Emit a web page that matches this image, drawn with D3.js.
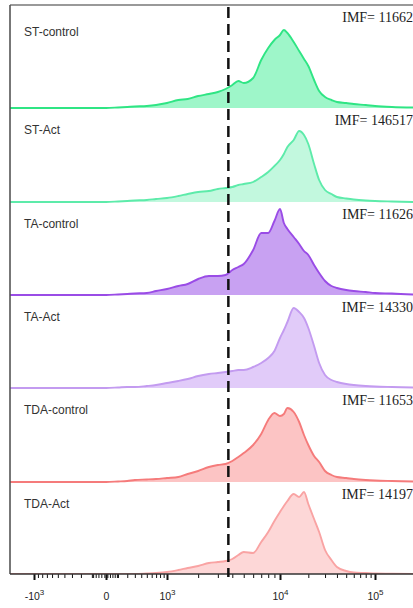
<!DOCTYPE html>
<html>
<head>
<meta charset="utf-8">
<script src="https://cdn.jsdelivr.net/npm/d3@7"></script>
<style>
  body { margin: 0; background: #fff; }
</style>
</head>
<body>
<div id="chart"></div>
<script>
var width = 413, height = 608;

// fluorescence intensity bins (shared by all histograms)
var bins = [-3000, 0, 100, 200, 300, 500, 700, 1000, 1300, 1600, 2000, 2500, 3000, 3500, 4000, 4500, 5000,
            6000, 7000, 8000, 9000, 10000, 11000, 12000, 14000, 16000, 18000, 20000, 23000, 26000,
            30000, 35000, 40000, 50000, 60000, 80000, 100000, 150000, 250000];

var samples = ["ST-control", "ST-Act", "TA-control", "TA-Act", "TDA-control", "TDA-Act"];
var imf = ["11662", "146517", "11626", "14330", "11653", "14197"];

// normalized counts per bin
var stControl  = [0, 0, 0.5, 1, 1.5, 2, 3, 5, 8, 9, 12, 14, 16, 19, 23, 27, 25,
                  30, 48, 60, 68, 73, 78, 75, 66, 57, 49, 42, 28, 17, 11, 8, 6, 5, 4, 3, 2, 1, 0.5];
var stAct      = [0, 0, 0.5, 1, 1.5, 2, 3, 4, 6, 8, 10, 11, 13, 14, 15, 17, 18,
                  20, 25, 30, 36, 42, 48, 55, 62, 71, 67, 58, 38, 22, 12, 8, 5, 3.5, 2.5, 1.5, 1, 0.5, 0];
var taControl  = [0, 0, 0.5, 1, 1.5, 2, 4, 6, 9, 11, 16, 19, 19, 20, 25, 28, 31,
                  45, 62, 62, 74, 86, 72, 66, 58, 51, 44, 40, 30, 22, 14, 9, 7, 5, 4, 3, 2, 1.5, 0.5];
var taAct      = [0, 0, 0.5, 1, 1, 2, 3, 5, 7, 9, 12, 14, 15, 16, 17, 18, 18,
                  21, 25, 30, 37, 50, 58, 66, 80, 76, 70, 60, 42, 25, 13, 8, 6, 4, 3, 2, 1.5, 1, 0.5];
var tdaControl = [0, 0, 0.5, 1, 2, 2.5, 3, 4, 5, 8, 11, 15, 17, 18, 21, 25, 29,
                  37, 48, 62, 69, 66, 68, 74, 70, 60, 47, 37, 26, 20, 11, 7, 5, 4, 3, 2, 1.5, 1, 0.5];
var tdaAct     = [0, 0, 0, 0, 0, 0.5, 1, 2, 4, 6, 8, 11, 12, 13, 15, 19, 22,
                  21, 32, 42, 53, 62, 68, 73, 80, 77, 82, 70, 55, 42, 24, 14, 7, 3, 1.5, 1, 0.5, 0.3, 0];

var series = [stControl, stAct, taControl, taAct, tdaControl, tdaAct];
var lineColors = ["#2fe584", "#5debaa", "#9a4ce6", "#c39bf0", "#f57b7b", "#f9a3a3"];
var fillColors = ["#9ef6c9", "#c2f8de", "#c8a1f2", "#e1cbf9", "#fcc4c4", "#fdd7d7"];

var majorTicks = [-1000, 0, 1000, 10000, 100000];
var majorLabels = [["-10", "3"], ["0", ""], ["10", "3"], ["10", "4"], ["10", "5"]];
var minorTicks = [-900, -800, -700, -600, -500, -400, -300, -200, -100,
                  -90, -70, -50, -30, -10, 10, 30, 50, 70, 90,
                  100, 200, 300, 400, 500, 600, 700, 800, 900,
                  2000, 3000, 4000, 5000, 6000, 7000, 8000, 9000,
                  20000, 30000, 40000, 50000, 60000, 70000, 80000, 90000];
var gateValue = 3700;

var plotLeft = 10, plotRight = 413, plotTop = 5, axisY = 574, panelH = 93;
var baselines = [108, 202, 295, 388, 482, 574];

// biexponential-like display scale
var x = d3.scaleSymlog().constant(300)
          .domain(majorTicks)
          .range([34, 106, 167, 280, 375]);

var svg = d3.select("#chart")
            .append("svg")
            .attr("width", width)
            .attr("height", height)
            .style("font-family", "'Liberation Sans', Arial, sans-serif");

svg.append("defs").append("clipPath").attr("id", "plot")
   .append("rect")
   .attr("x", plotLeft).attr("y", plotTop)
   .attr("width", plotRight - plotLeft).attr("height", axisY - plotTop);

var plot = svg.append("g").attr("clip-path", "url(#plot)");

series.forEach(function(vals, i) {
    var base = baselines[i];
    var y = d3.scaleLinear().domain([0, 93]).range([base, base - panelH]);
    var pts = bins.map(function(b, j) { return [b, vals[j]]; });

    var area = d3.area()
                 .x(function(d) { return x(d[0]); })
                 .y0(base)
                 .y1(function(d) { return y(d[1]); })
                 .curve(d3.curveMonotoneX);
    var line = d3.line()
                 .x(function(d) { return x(d[0]); })
                 .y(function(d) { return y(d[1]); })
                 .curve(d3.curveMonotoneX);

    plot.append("path").attr("d", area(pts)).attr("fill", fillColors[i]);
    plot.append("path").attr("d", line(pts))
        .attr("fill", "none")
        .attr("stroke", lineColors[i])
        .attr("stroke-width", 1.9);

    var panelTop = i === 0 ? plotTop : baselines[i - 1];
    svg.append("text")
       .attr("x", 24)
       .attr("y", i === 0 ? 36 : panelTop + 26)
       .attr("font-size", "12px")
       .attr("fill", "#333")
       .text(samples[i]);

    svg.append("text")
       .attr("x", 413)
       .attr("y", i === 0 ? 22 : panelTop + 16.5)
       .attr("text-anchor", "end")
       .attr("font-family", "'Liberation Serif', 'Times New Roman', serif")
       .attr("font-size", "14px")
       .attr("fill", "#222")
       .text("IMF= " + imf[i]);
});

// frame
svg.append("line").attr("x1", plotLeft).attr("x2", plotRight).attr("y1", plotTop).attr("y2", plotTop)
   .attr("stroke", "#777").attr("stroke-width", 1.5);
svg.append("line").attr("x1", plotLeft).attr("x2", plotLeft).attr("y1", plotTop).attr("y2", axisY)
   .attr("stroke", "#555").attr("stroke-width", 1.6);

// minor ticks
var minorAxis = d3.axisBottom(x).tickValues(minorTicks).tickSize(4).tickFormat("");
svg.append("g").attr("transform", "translate(0," + axisY + ")").call(minorAxis)
   .call(function(g) { g.select(".domain").remove(); })
   .selectAll("line").attr("stroke", "#111").attr("stroke-width", 1);

// major ticks with labels
var majorAxis = d3.axisBottom(x).tickValues(majorTicks).tickSize(6).tickPadding(13).tickFormat("");
var gx = svg.append("g").attr("transform", "translate(0," + axisY + ")").call(majorAxis);
gx.select(".domain").remove();
gx.selectAll("line").attr("stroke", "#111").attr("stroke-width", 2);
gx.selectAll(".tick text").each(function(d, i) {
    var t = d3.select(this)
              .attr("font-size", "10.5px")
              .attr("fill", "#222")
              .attr("font-family", "'Liberation Sans', Arial, sans-serif");
    t.append("tspan").text(majorLabels[i][0]);
    if (majorLabels[i][1]) {
        t.append("tspan").attr("dy", "-5").attr("font-size", "8px").text(majorLabels[i][1]);
    }
});

svg.append("line").attr("x1", plotLeft).attr("x2", plotRight).attr("y1", axisY).attr("y2", axisY)
   .attr("stroke", "#333").attr("stroke-width", 1.5);

// gate line
svg.append("line")
   .attr("x1", x(gateValue)).attr("x2", x(gateValue))
   .attr("y1", plotTop + 2).attr("y2", axisY + 3)
   .attr("stroke", "#111")
   .attr("stroke-width", 2.5)
   .attr("stroke-dasharray", "11,6");
</script>
</body>
</html>
